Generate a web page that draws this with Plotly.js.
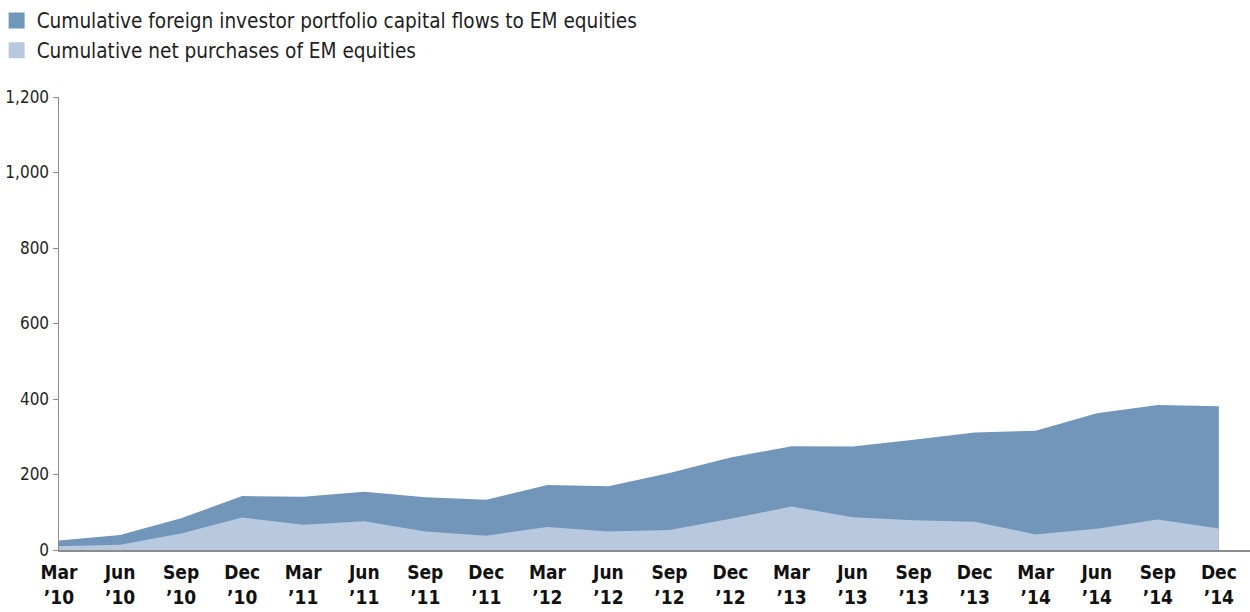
<!DOCTYPE html>
<html>
<head>
<meta charset="utf-8">
<script src="https://cdn.plot.ly/plotly-3.0.1.min.js"></script>
<style>
  html, body { margin: 0; padding: 0; background: #ffffff; }
  #chart { width: 1250px; height: 612px; }
</style>
</head>
<body>
<div id="chart"></div>
<script>
// Quarter-end labels, Mar 2010 to Dec 2014
const quarters = [
  "Mar<br>’10", "Jun<br>’10", "Sep<br>’10", "Dec<br>’10",
  "Mar<br>’11", "Jun<br>’11", "Sep<br>’11", "Dec<br>’11",
  "Mar<br>’12", "Jun<br>’12", "Sep<br>’12", "Dec<br>’12",
  "Mar<br>’13", "Jun<br>’13", "Sep<br>’13", "Dec<br>’13",
  "Mar<br>’14", "Jun<br>’14", "Sep<br>’14", "Dec<br>’14"
];

// Cumulative foreign investor portfolio capital flows to EM equities
const foreignFlows = [25, 40, 84, 143, 141, 154, 140, 133, 172, 169,
                      204, 245, 275, 274, 292, 311, 316, 362, 384, 381];

// Cumulative net purchases of EM equities
const netPurchases = [10, 14, 44, 86, 67, 76, 49, 38, 61, 49,
                      53, 83, 115, 87, 79, 75, 41, 56, 81, 57];

const seriesNames = [
  "Cumulative foreign investor portfolio capital flows to EM equities",
  "Cumulative net purchases of EM equities"
];

const yTicks = [0, 200, 400, 600, 800, 1000, 1200];

const darkBlue = "#7296ba";
const lightBlue = "#b8c9df";
const fontFamily = "'Liberation Sans Narrow', 'DejaVu Sans Condensed', 'Roboto', sans-serif";

const traces = [
  {
    x: quarters, y: foreignFlows, type: "scatter", mode: "none",
    fill: "tozeroy", fillcolor: darkBlue, showlegend: false, hoverinfo: "skip"
  },
  {
    x: quarters, y: netPurchases, type: "scatter", mode: "none",
    fill: "tozeroy", fillcolor: lightBlue, showlegend: false, hoverinfo: "skip"
  },
  // legend swatches
  {
    x: [null], y: [null], type: "scatter", mode: "markers", name: seriesNames[0],
    marker: { symbol: "square", size: 18, color: darkBlue }, legendgroup: "a"
  },
  {
    x: [null], y: [null], type: "scatter", mode: "markers", name: seriesNames[1],
    marker: { symbol: "square", size: 18, color: lightBlue }, legendgroup: "b"
  }
];

const layout = {
  width: 1250,
  height: 612,
  margin: { l: 59, r: 0, t: 97, b: 62 },
  paper_bgcolor: "#ffffff",
  plot_bgcolor: "#ffffff",
  font: { family: fontFamily, color: "#1f1f1f" },
  showlegend: true,
  legend: {
    x: -0.049, y: 1.213, xanchor: "left", yanchor: "top",
    indentation: -4,
    font: { size: 20.6, family: fontFamily, color: "#1f1f1f" },
    traceorder: "grouped", tracegroupgap: 0,
    itemwidth: 30, bgcolor: "rgba(0,0,0,0)"
  },
  xaxis: {
    type: "category",
    range: [0, 19.51],
    showline: true, linecolor: "#8c8c8c", linewidth: 2,
    showgrid: false, zeroline: false, ticks: "",
    ticklabelstandoff: 4,
    tickfont: { size: 19, family: fontFamily, weight: "bold", color: "#111111" },
    fixedrange: true
  },
  yaxis: {
    range: [0, 1200],
    tickvals: yTicks,
    tickformat: ",d",
    showline: true, linecolor: "#8c8c8c", linewidth: 1.5,
    ticks: "outside", ticklen: 5, tickcolor: "#8c8c8c", tickwidth: 1,
    showgrid: false, zeroline: false,
    tickfont: { size: 17, family: fontFamily, color: "#1f1f1f" },
    fixedrange: true
  }
};

Plotly.newPlot("chart", traces, layout, { displayModeBar: false, staticPlot: true });
</script>
</body>
</html>
